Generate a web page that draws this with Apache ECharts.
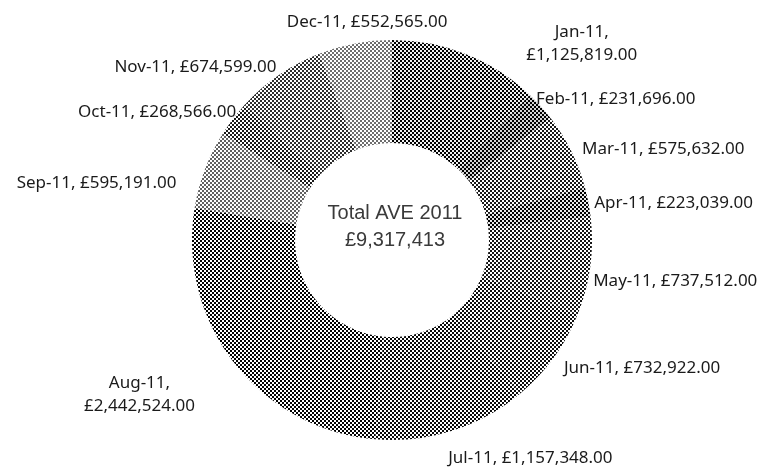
<!DOCTYPE html>
<html>
<head>
<meta charset="utf-8">
<script src="https://cdn.jsdelivr.net/npm/echarts@6/dist/echarts.min.js"></script>
<style>
  html, body { margin: 0; padding: 0; background: #fff; }
  #chart { width: 768px; height: 469px; }
</style>
</head>
<body>
<div id="chart"></div>
<script>
// monthly AVE values, 2011
var months = ['Jan-11', 'Feb-11', 'Mar-11', 'Apr-11', 'May-11', 'Jun-11',
  'Jul-11', 'Aug-11', 'Sep-11', 'Oct-11', 'Nov-11', 'Dec-11'];
var values = [1125819, 231696, 575632, 223039, 737512, 732922,
  1157348, 2442524, 595191, 268566, 674599, 552565];
var centerLines = ['Total AVE 2011', '£9,317,413'];

// average grey of each slice's dither (0 = black, 255 = white)
var tones = [120, 106, 140, 116, 138, 134, 132, 128, 176, 140, 150, 182];
var twoLine = { 'Jan-11': true, 'Aug-11': true };
// nudges so labels sit where excel put them [dx, dy, align]
var labelShift = [
  [107, -1, 'center'], [-17, 0], [-3, 3], [-9, 3], [-12, 14], [-3, 5],
  [-12, 18], [-82, 25, 'center'], [-14, 17], [16, 0], [8, 0], [19, -11, 'center']
];

function money(v) {
  return '£' + v.toLocaleString('en-GB', { minimumFractionDigits: 2, maximumFractionDigits: 2 });
}

// small checkered tile to mimic the halftone fill
function dither(avg) {
  var c = document.createElement('canvas');
  c.width = 4; c.height = 4;
  var ctx = c.getContext('2d');
  var hi = Math.min(255, avg * 2), lo = Math.max(0, avg * 2 - 255);
  ctx.fillStyle = 'rgb(' + hi + ',' + hi + ',' + hi + ')';
  ctx.fillRect(0, 0, 4, 4);
  ctx.fillStyle = 'rgb(' + lo + ',' + lo + ',' + lo + ')';
  ctx.fillRect(0, 0, 2, 2);
  ctx.fillRect(2, 2, 2, 2);
  return { image: c, repeat: 'repeat' };
}

var pieData = months.map(function (m, i) {
  return {
    name: m,
    value: values[i],
    itemStyle: { color: dither(tones[i]) }
  };
});

var myChart = echarts.init(document.getElementById('chart'), null, { renderer: 'canvas' });
myChart.setOption({
  animation: false,
  backgroundColor: '#fff',
  graphic: [{
    type: 'text',
    x: 395,
    y: 227,
    style: {
      text: centerLines.join('\n'),
      fill: '#3a3a3a',
      font: '20px "Liberation Sans"',
      textAlign: 'center',
      textVerticalAlign: 'middle',
      lineHeight: 27
    }
  }],
  series: [{
    type: 'pie',
    center: [392, 240],
    radius: [97, 200],
    startAngle: 90,
    clockwise: true,
    avoidLabelOverlap: false,
    data: pieData,
    label: {
      show: true,
      position: 'outside',
      color: '#1a1a1a',
      fontFamily: 'Noto Sans',
      fontSize: 17,
      lineHeight: 23,
      formatter: function (p) {
        return p.name + (twoLine[p.name] ? ',\n' : ', ') + money(p.value);
      }
    },
    labelLine: { show: false, length: 10, length2: 0 },
    labelLayout: function (p) {
      var s = labelShift[p.dataIndex];
      var out = { dx: s[0], dy: s[1] };
      if (s[2]) out.align = s[2];
      return out;
    },
    emphasis: { disabled: true }
  }]
});
</script>
</body>
</html>
